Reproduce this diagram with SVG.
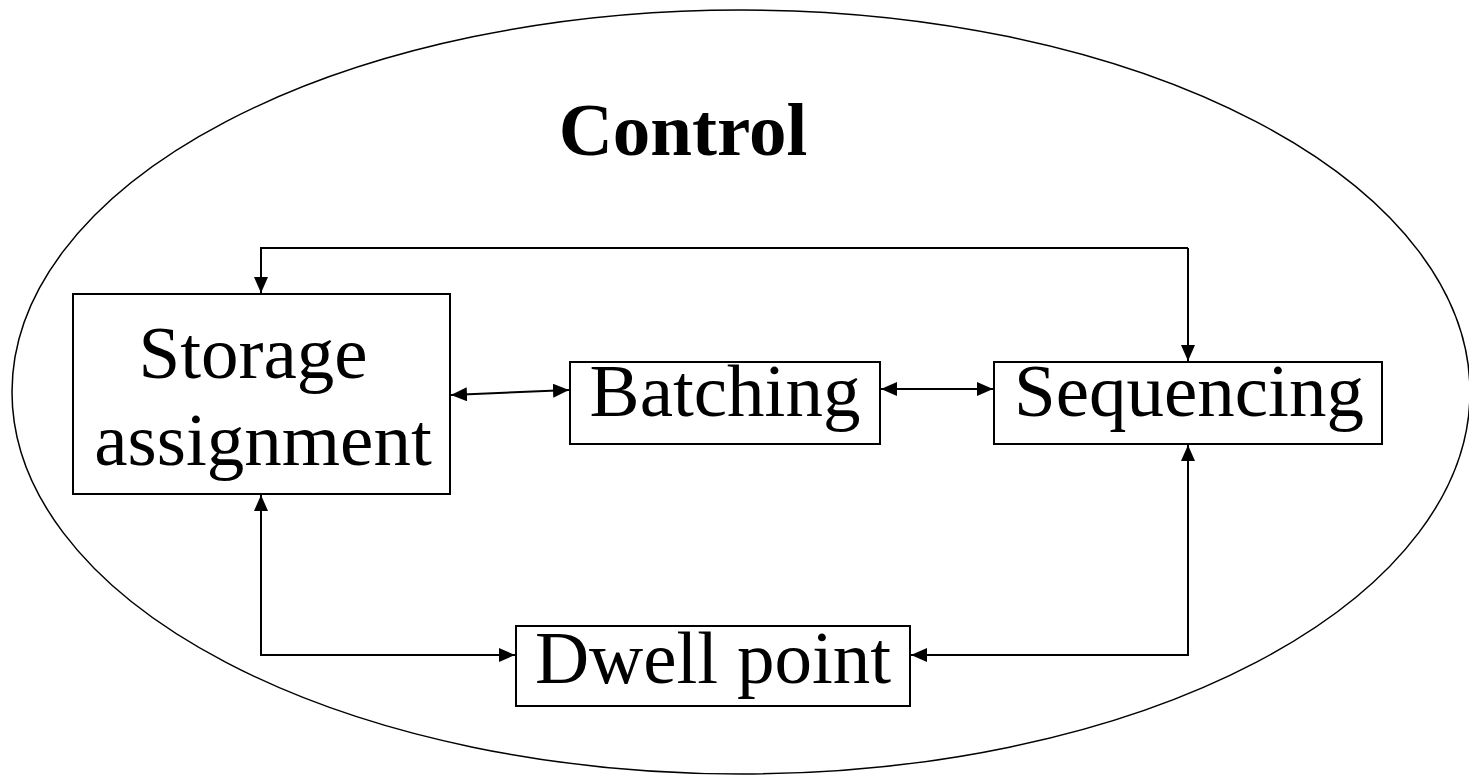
<svg xmlns="http://www.w3.org/2000/svg" width="1469" height="776" viewBox="0 0 1469 776">
  <style>
    .box { fill: #ffffff; stroke: #000000; stroke-width: 2; }
    .lbl { font-family: "Liberation Serif", "Times New Roman", serif; font-size: 75px; fill: #000000; text-anchor: middle; }
    .title { font-family: "Liberation Serif", "Times New Roman", serif; font-size: 75px; font-weight: bold; fill: #000000; text-anchor: middle; }
    .link { fill: none; stroke: #000000; stroke-width: 2; }
  </style>
  <defs>
    <marker id="head" viewBox="0 0 16 14" refX="16" refY="7" markerWidth="16" markerHeight="14" markerUnits="userSpaceOnUse" orient="auto-start-reverse">
      <path d="M0,0 L16,7 L0,14 Z" fill="#000000"/>
    </marker>
  </defs>

  <!-- enclosing control boundary -->
  <ellipse cx="741" cy="392" rx="729" ry="382" fill="none" stroke="#000000" stroke-width="1.5"/>
  <text class="title" x="683" y="155">Control</text>

  <!-- connectors -->
  <g id="connectors">
    <polyline class="link" points="1188,248 261,248 261,293" marker-end="url(#head)"/>
    <line class="link" x1="1188" y1="248" x2="1188" y2="361" marker-end="url(#head)"/>
    <line class="link" x1="451" y1="395" x2="569" y2="390" marker-start="url(#head)" marker-end="url(#head)"/>
    <line class="link" x1="881" y1="389" x2="993" y2="389" marker-start="url(#head)" marker-end="url(#head)"/>
    <polyline class="link" points="261,495 261,655 515,655" marker-start="url(#head)" marker-end="url(#head)"/>
    <polyline class="link" points="1188,445 1188,655 911,655" marker-start="url(#head)" marker-end="url(#head)"/>
  </g>

  <g id="storage">
    <rect class="box" x="73" y="294" width="377" height="200"/>
    <text class="lbl" x="253" y="378">Storage</text>
    <text class="lbl" x="263" y="465">assignment</text>
  </g>

  <g id="batching">
    <rect class="box" x="570" y="362" width="310" height="82"/>
    <text class="lbl" x="725" y="416">Batching</text>
  </g>

  <g id="sequencing">
    <rect class="box" x="994" y="362" width="388" height="82"/>
    <text class="lbl" x="1189" y="416">Sequencing</text>
  </g>

  <g id="dwell">
    <rect class="box" x="516" y="626" width="394" height="80"/>
    <text class="lbl" x="713" y="683">Dwell point</text>
  </g>
</svg>
